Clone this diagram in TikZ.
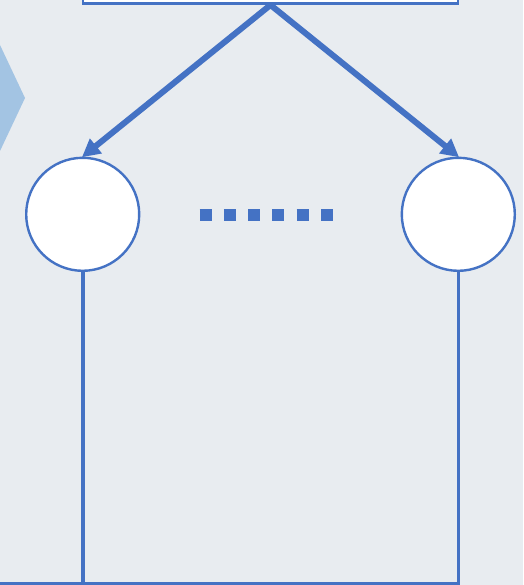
\documentclass[tikz,border=0pt]{standalone}
\usetikzlibrary{arrows.meta}
\definecolor{bgc}{HTML}{E8ECF0}
\definecolor{linec}{HTML}{4472C4}
\definecolor{chev}{HTML}{A3C4E3}
\begin{document}
\begin{tikzpicture}[x=1pt,y=-1pt,
  unitnode/.style={circle,draw=linec,line width=2.4pt,fill=white,minimum size=113pt,inner sep=0pt},
  topbox/.style={rectangle,draw=linec,line width=2.6pt,fill=white,minimum width=375pt,minimum height=40pt,inner sep=0pt},
  feed/.style={draw=linec,line width=6pt,-{Triangle[length=18pt,width=18pt]},shorten >=-1pt},
  wire/.style={draw=linec,line width=3.6pt}]
  \useasboundingbox (0,0) rectangle (523,585);
  \clip (0,0) rectangle (523,585);
  \fill[bgc] (0,0) rectangle (523,585);
  % partial chevron at the left edge
  \fill[chev] (-10,45) -- (0,45) -- (25,98) -- (0,151) -- (-10,151) -- cycle;
  % top box
  \node[topbox,anchor=south] (top) at (270.5,5) {};
  % two units
  \node[unitnode] (u1) at (82.7,214.3) {};
  \node[unitnode] (u2) at (458.3,214.3) {};
  % ellipsis between the units
  \coordinate (d1) at (199.5,215);
  \coordinate (d2) at (345,215);
  \draw[draw=linec,line width=12pt,dash pattern=on 12pt off 12.3pt] (d1) -- (d2);
  % feed arrows
  \draw[feed] (top.south) -- (u1.north);
  \draw[feed] (top.south) -- (u2.north);
  % bottom wiring
  \coordinate (b1) at (82.7,583.6);
  \coordinate (b2) at (458.3,583.6);
  \coordinate (b0) at (-5,583.6);
  \draw[wire] (u1.south) -- (b1);
  \draw[wire] (u2.south) -- (b2);
  \draw[wire,line cap=rect] (b0) -- (b2);
\end{tikzpicture}
\end{document}
